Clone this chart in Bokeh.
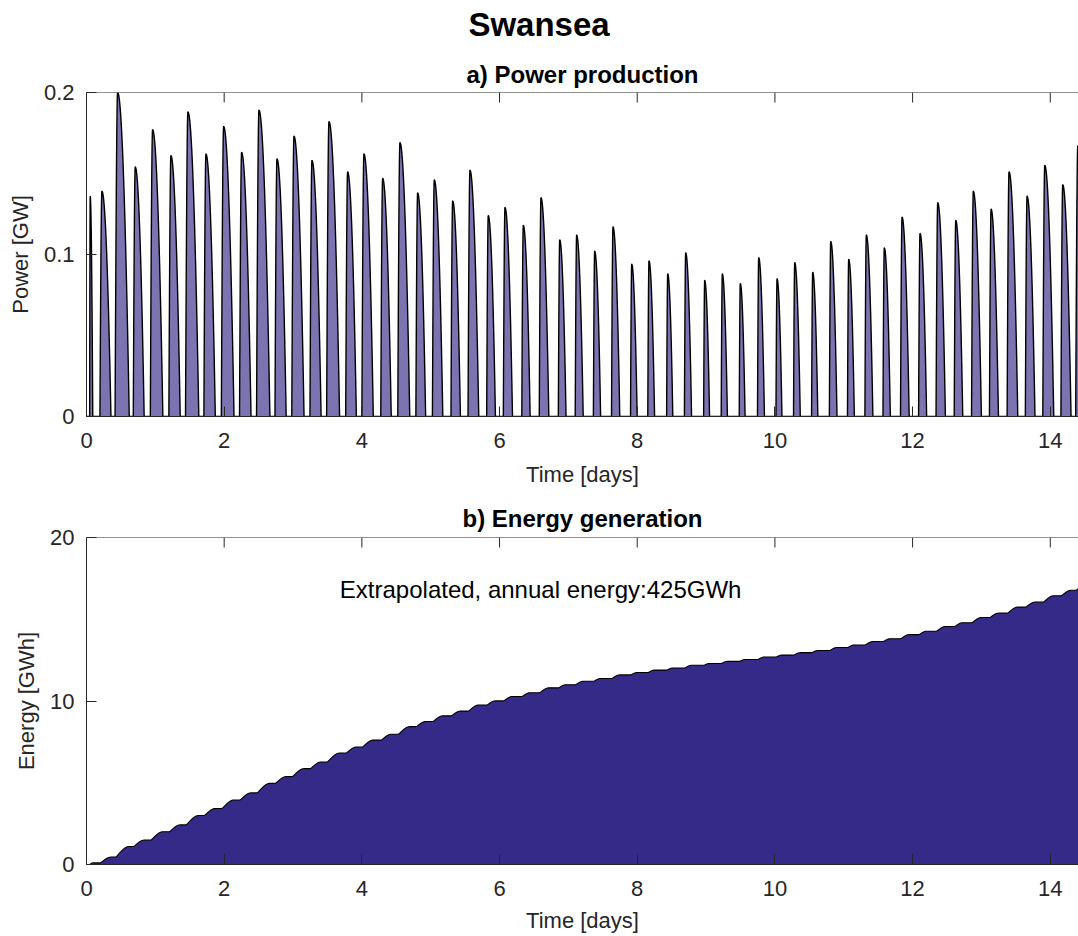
import numpy as np
from bokeh.plotting import figure
from bokeh.models import Range1d, FixedTicker, Title, Label, Span, Div
from bokeh.layouts import column
from bokeh.embed import file_html
from bokeh.resources import INLINE

# ---- data ----
peak_time = [0.054, 0.224, 0.452, 0.708, 0.960, 1.226, 1.473, 1.735, 1.992, 2.253,
             2.505, 2.767, 3.014, 3.275, 3.522, 3.793, 4.030, 4.302, 4.553, 4.810,
             5.052, 5.319, 5.570, 5.836, 6.079, 6.345, 6.602, 6.874, 7.120, 7.382,
             7.648, 7.920, 8.171, 8.443, 8.704, 8.980, 9.236, 9.497, 9.765, 10.031,
             10.288, 10.549, 10.811, 11.072, 11.328, 11.589, 11.847, 12.108, 12.365, 12.627,
             12.882, 13.140, 13.401, 13.663, 13.920, 14.181, 14.400]
peak_power = [0.136, 0.139, 0.200, 0.154, 0.177, 0.161, 0.188, 0.162, 0.179, 0.163,
              0.189, 0.159, 0.173, 0.158, 0.182, 0.151, 0.162, 0.147, 0.169, 0.138,
              0.146, 0.133, 0.152, 0.124, 0.129, 0.118, 0.135, 0.109, 0.112, 0.102,
              0.117, 0.094, 0.096, 0.088, 0.101, 0.084, 0.088, 0.082, 0.098, 0.085,
              0.095, 0.089, 0.108, 0.097, 0.112, 0.104, 0.123, 0.113, 0.132, 0.121,
              0.139, 0.128, 0.151, 0.136, 0.155, 0.143, 0.167]
pulse_duration = [0.045, 0.160, 0.206, 0.158, 0.182, 0.165, 0.193, 0.166, 0.184, 0.167,
                  0.194, 0.163, 0.178, 0.162, 0.188, 0.155, 0.166, 0.152, 0.174, 0.142,
                  0.151, 0.137, 0.156, 0.127, 0.133, 0.121, 0.139, 0.112, 0.116, 0.105,
                  0.120, 0.096, 0.099, 0.090, 0.104, 0.086, 0.090, 0.085, 0.101, 0.087,
                  0.098, 0.091, 0.111, 0.100, 0.116, 0.107, 0.126, 0.117, 0.136, 0.124,
                  0.143, 0.131, 0.155, 0.140, 0.159, 0.147, 0.172]

x_ticks = [0, 2, 4, 6, 8, 10, 12, 14]
x_tick_labels = ["0", "2", "4", "6", "8", "10", "12", "14"]
power_ticks = [0, 0.1, 0.2]
power_tick_labels = ["0", "0.1", "0.2"]
energy_ticks = [0, 10, 20]
energy_tick_labels = ["0", "10", "20"]
annual_energy_text = "Extrapolated, annual energy:425GWh"

T_END = 14.41
FONT = "Liberation Sans"
AX = "#262626"
TICK_LEN = 10  # px

# ---- build power time series from pulses, energy as its running integral ----
dt = 0.0005
t = np.arange(0.0, T_END + dt, dt)
P = np.zeros_like(t)
RISE = 0.18
for tp, pk, w in zip(peak_time, peak_power, pulse_duration):
    t0 = tp - RISE * w
    s = (t - t0) / w
    r = (s >= 0) & (s < RISE)
    f = (s >= RISE) & (s <= 1)
    P[r] = np.maximum(P[r], pk * np.sin(0.5 * np.pi * s[r] / RISE))
    P[f] = np.maximum(P[f], pk * (1 - ((s[f] - RISE) / (1 - RISE)) ** 2))
E = np.cumsum(P) * dt * 24.0  # GWh


def style_axis(ax, ticks, labels):
    ax.ticker = FixedTicker(ticks=ticks)
    ax.major_label_overrides = {k: v for k, v in zip(ticks, labels)}
    ax.major_tick_in = TICK_LEN
    ax.major_tick_out = 0
    ax.minor_tick_in = 0
    ax.minor_tick_out = 0
    ax.axis_line_color = AX
    ax.axis_line_width = 1
    ax.major_tick_line_color = AX
    ax.major_label_text_font = FONT
    ax.major_label_text_color = AX
    ax.major_label_text_font_size = "22px"
    ax.axis_label_text_font = FONT
    ax.axis_label_text_font_style = "normal"
    ax.axis_label_text_color = AX
    ax.axis_label_text_font_size = "22px"


def make_fig(frame_h, top, bottom, y_end, yticks, ylabels, ylabel, xlab_standoff):
    p = figure(frame_width=992, frame_height=frame_h,
               x_range=Range1d(0, T_END), y_range=Range1d(0, y_end),
               output_backend="svg", toolbar_location=None, title=None,
               min_border_left=86, min_border_right=0,
               min_border_top=top, min_border_bottom=bottom)
    p.outline_line_color = None
    p.grid.visible = False
    p.background_fill_color = "white"
    p.border_fill_color = "white"
    style_axis(p.xaxis[0], x_ticks, x_tick_labels)
    p.xaxis[0].axis_label = "Time [days]"
    p.xaxis[0].major_label_standoff = 16
    p.xaxis[0].axis_label_standoff = xlab_standoff
    style_axis(p.yaxis[0], yticks, ylabels)
    p.yaxis[0].axis_label = ylabel
    p.yaxis[0].major_label_standoff = 12
    p.yaxis[0].axis_label_standoff = 8
    return p


def add_box_top(p, y_end, frame_h):
    # top edge of the axes box with inward tick marks (MATLAB "box on")
    p.add_layout(Span(location=y_end, dimension="width", line_color=AX, line_width=1))
    tick_len = y_end * TICK_LEN / frame_h
    p.segment(x0=x_ticks, y0=[y_end] * len(x_ticks), x1=x_ticks,
              y1=[y_end - tick_len] * len(x_ticks), line_color=AX, line_width=1)


def add_title(p, text, size, standoff):
    p.add_layout(Title(text=text, align="center", text_font=FONT,
                       text_font_size=size, text_font_style="bold",
                       text_color="black", standoff=standoff), "above")


# ---- main title ----
head = Div(text='<div style="font-family:\'Liberation Sans\',Arial,sans-serif;font-size:33px;'
                'font-weight:bold;text-align:center;line-height:49px;color:black;'
                'width:1078px;">Swansea</div>',
           width=1078, height=47, margin=0)

# ---- a) power ----
p1 = make_fig(324, 45, 74, 0.2, power_ticks, power_tick_labels, "Power [GW]", 11)
p1.varea(x=t, y1=0, y2=P, fill_color="#352a87", fill_alpha=0.65)
p1.line(x=t, y=P, line_color="black", line_width=1.4)
add_box_top(p1, 0.2, 324)
add_title(p1, "a) Power production", "24px", 9)

# ---- b) energy ----
p2 = make_fig(327, 47, 72, 20, energy_ticks, energy_tick_labels, "Energy [GWh]", 9)
p2.varea(x=t, y1=0, y2=E, fill_color="#352a87", fill_alpha=1.0)
p2.line(x=t, y=E, line_color="black", line_width=1.1)
add_box_top(p2, 20, 327)
add_title(p2, "b) Energy generation", "24px", 11)
p2.add_layout(Label(x=3.68, y=16.8, text=annual_energy_text, text_font=FONT,
                    text_font_size="24px", text_color="black",
                    text_baseline="alphabetic", text_align="left"))

layout = column(head, p1, p2, spacing=0)
open("out.html", "w").write(file_html(layout, INLINE))
